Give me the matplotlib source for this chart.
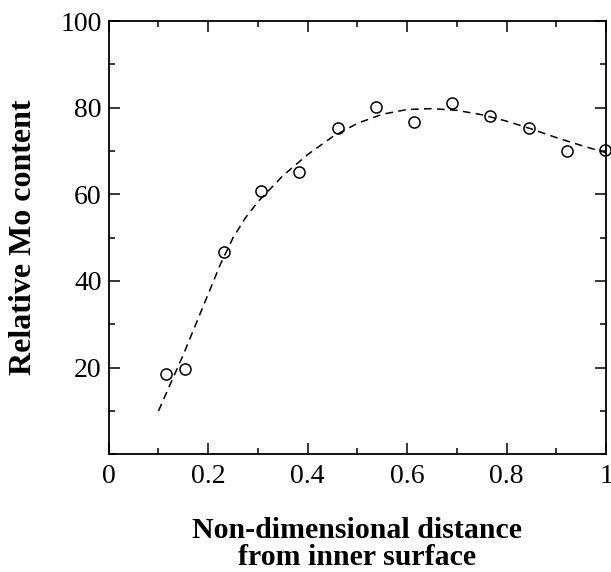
#!/usr/bin/env python
# -*- coding: utf-8 -*-
"""Relative Mo content against non-dimensional distance from inner surface."""

import matplotlib as mpl
mpl.use('Agg')
from matplotlib import pyplot as plt
from matplotlib.ticker import MultipleLocator

# measured points
distance = [0.116, 0.154, 0.231, 0.307, 0.383, 0.461, 0.537, 0.614, 0.690, 0.767, 0.844, 0.921, 0.998]
mo_content = [18.5, 19.6, 46.6, 60.8, 65.2, 75.3, 80.2, 76.8, 81.2, 78.2, 75.4, 70.1, 70.3]

# fitted curve
fit_x = [0.10, 0.125, 0.15, 0.175, 0.20, 0.225, 0.25, 0.275, 0.30, 0.35, 0.40, 0.45, 0.50,
         0.55, 0.60, 0.65, 0.70, 0.75, 0.80, 0.85, 0.90, 0.95, 1.00]
fit_y = [10.0, 16.5, 23.0, 30.0, 37.0, 44.0, 50.0, 54.6, 58.3, 64.3, 69.2, 73.3, 76.4,
         78.5, 79.6, 79.8, 79.4, 78.4, 76.9, 75.1, 73.1, 71.3, 69.6]

xticks = [0, 0.2, 0.4, 0.6, 0.8, 1]
xtick_labels = ['0', '0.2', '0.4', '0.6', '0.8', '1']
yticks = [20, 40, 60, 80, 100]

mpl.rcParams.update({'font.family': 'Liberation Serif'})

fig = plt.figure(figsize=(6.11, 5.72), dpi=100, facecolor='w')
ax = fig.add_axes([0.178, 0.206, 0.814, 0.757])

ax.plot(fit_x, fit_y, color='k', linewidth=1.1, dashes=(5, 3.5))
ax.plot(distance, mo_content, linestyle='none', marker='o', markersize=8,
        markerfacecolor='none', markeredgecolor='k', markeredgewidth=1.1, clip_on=False)

ax.set_xlim(0, 1)
ax.set_ylim(0, 100)
ax.set_xticks(xticks)
ax.set_xticklabels(xtick_labels)
ax.set_yticks(yticks)
ax.xaxis.set_minor_locator(MultipleLocator(0.1))
ax.yaxis.set_minor_locator(MultipleLocator(10))

ax.tick_params(which='both', direction='in', top=True, right=True, width=1.1,
               labelsize=20)
ax.tick_params(which='major', length=8)
ax.tick_params(which='minor', length=4.5)
ax.tick_params(axis='x', pad=7)
ax.tick_params(axis='y', pad=5)
for spine in ax.spines.values():
    spine.set_linewidth(1.3)

ax.set_xlabel("Non-dimensional distance\nfrom inner surface", fontsize=21.5,
              fontweight='bold', labelpad=20, linespacing=1.0)
ax.set_ylabel("Relative Mo content", fontsize=23, fontweight='bold', labelpad=16)

fig.savefig("out.png", dpi=100)
